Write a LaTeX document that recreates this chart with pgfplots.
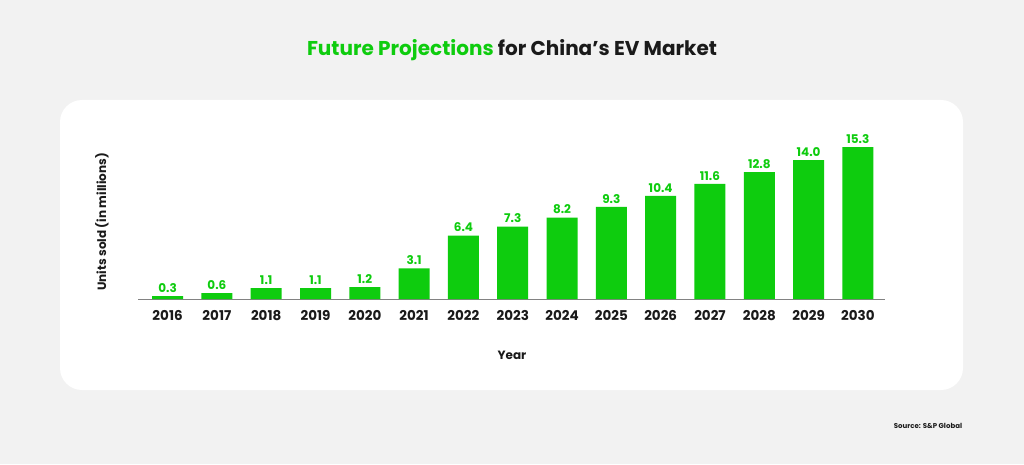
\documentclass[border=0pt]{standalone}
\usepackage{fontspec}
\setmainfont{Poppins}
\usepackage{pgfplots}
\usepackage{pgfplotstable}
\pgfplotsset{compat=1.18}
\definecolor{bgc}{RGB}{242,242,242}
\definecolor{evgreen}{RGB}{14,204,14}
\definecolor{txt}{RGB}{26,26,26}
\definecolor{axc}{RGB}{130,130,130}
\pgfplotstableread{
x year val lab
0 2016 0.3 0.3
1 2017 0.6 0.6
2 2018 1.1 1.1
3 2019 1.1 1.1
4 2020 1.2 1.2
5 2021 3.1 3.1
6 2022 6.4 6.4
7 2023 7.3 7.3
8 2024 8.2 8.2
9 2025 9.3 9.3
10 2026 10.4 10.4
11 2027 11.6 11.6
12 2028 12.8 12.8
13 2029 14.0 14.0
14 2030 15.3 15.3
}\datatable
\begin{document}
\begin{tikzpicture}[x=1pt,y=1pt]
\fill[bgc] (0,0) rectangle (1024,464);
\fill[white,rounded corners=22pt] (60,74) rectangle (963,364);
\node[font=\fontsize{20}{22}\selectfont\bfseries,text=txt] at (512,414) {\textcolor{evgreen}{Future Projections} for China’s EV Market};
\begin{axis}[
  at={(138pt,165pt)}, anchor=south west,
  scale only axis, width=747pt, height=158.7pt,
  xmin=-0.6, xmax=14.55, ymin=0, ymax=16,
  axis x line=bottom, axis y line=none,
  x axis line style={draw=axc, line width=0.8pt, -},
  xtick=data, xticklabels={2016,2017,2018,2019,2020,2021,2022,2023,2024,2025,2026,2027,2028,2029,2030},
  major tick length=0pt,
  xticklabel style={font=\fontsize{13.5}{15}\selectfont\bfseries, text=txt, anchor=north, yshift=-8pt},
  ytick=\empty,
  enlargelimits=false,
  clip=false,
]
\addplot[ybar, bar width=31pt, fill=evgreen, draw=none,
  point meta=explicit symbolic,
  nodes near coords,
  nodes near coords style={font=\fontsize{12}{14}\selectfont\bfseries, text=evgreen, anchor=south, yshift=0pt},
] table[x=x, y=val, meta=lab] {\datatable};
\end{axis}
\node[rotate=90, font=\fontsize{12}{14}\selectfont\bfseries, text=txt] at (102,242) {Units sold (in millions)};
\node[font=\fontsize{12}{14}\selectfont\bfseries, text=txt] at (512,109) {Year};
\node[font=\fontsize{7}{8}\selectfont\bfseries, text=txt] at (928,38) {Source: S\&P Global};
\end{tikzpicture}
\end{document}
